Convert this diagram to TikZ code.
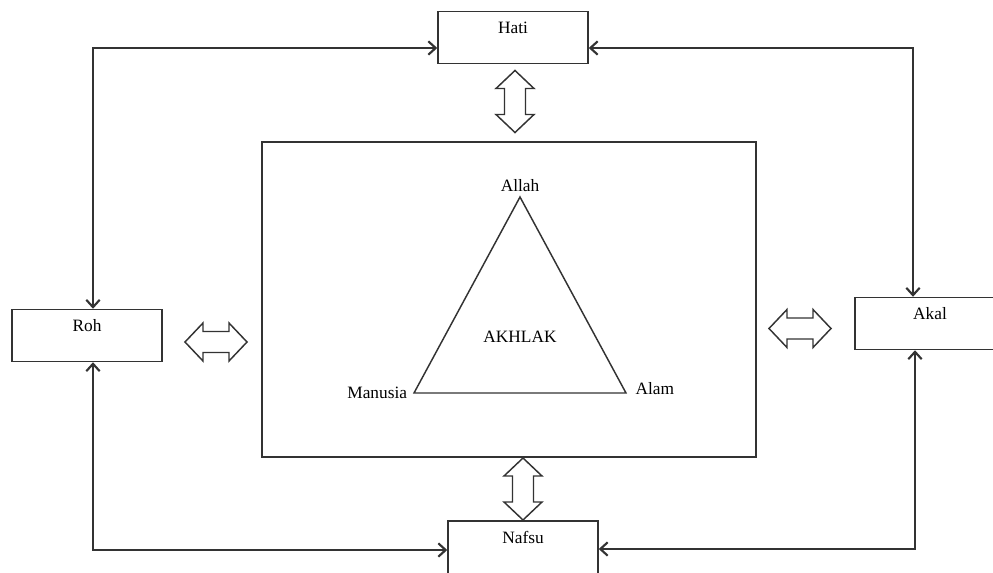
\documentclass[tikz,border=0pt]{standalone}
\usepackage{fontspec}
\setmainfont{Liberation Serif}
\usetikzlibrary{arrows.meta}

\tikzset{
  box/.style={draw=black!80, line width=1.1pt, minimum width=112.5pt, minimum height=39pt, inner sep=0pt},
  lbl/.style={font=\fontsize{13}{15}\selectfont, inner sep=1pt},
  link/.style={draw=black!80, line width=1.1pt, {Straight Barb[length=5.5pt,width=10pt,line width=1.6pt]}-{Straight Barb[length=5.5pt,width=10pt,line width=1.6pt]}},
  hollow/.style={draw=black!80, line width=1.1pt, fill=white, line join=miter},
  dblarrow/.pic={\draw[hollow] (-31,0) -- (-13,-19) -- (-13,-10.5) -- (13,-10.5) -- (13,-19) -- (31,0)
      -- (13,19) -- (13,10.5) -- (-13,10.5) -- (-13,19) -- cycle;}
}

\begin{document}
\begin{tikzpicture}[x=0.75pt, y=-0.75pt]
      \useasboundingbox (0,0) rectangle (993,572);
      % Boxes:
      \node[box] (hati) at (513,37.5) {};
      \node[box] (roh) at (87,335.5) {};
      \node[box] (akal) at (930,323.5) {};
      \node[box, minimum height=42pt] (nafsu) at (523,549) {};
      \node[box, minimum width=370.5pt, minimum height=236.25pt] (core) at (509,299.5) {};
      \node[lbl] at ([yshift=-12.75pt]hati.north) {Hati};
      \node[lbl] at ([yshift=-12.75pt]roh.north) {Roh};
      \node[lbl] at ([yshift=-12.75pt]akal.north) {Akal};
      \node[lbl] at ([yshift=-12.75pt]nafsu.north) {Nafsu};
      % Triangle:
      \coordinate (top) at (520,197);
      \coordinate (left) at (414,393);
      \coordinate (right) at (626,393);
      \draw[draw=black!80, line width=1.1pt, line join=miter] (top) -- (left) -- (right) -- cycle;
      \node[lbl, above=3pt] at (top) {Allah};
      \node[lbl] at (520,337) {AKHLAK};
      \node[lbl, left=4pt] at (left) {Manusia};
      \node[lbl, right=6pt] at ([yshift=3pt]right) {Alam};
      % Hollow arrows:
      \pic[rotate=90] at (515,101.5) {dblarrow};
      \pic[rotate=90] at (523,489) {dblarrow};
      \pic at (216,342) {dblarrow};
      \pic at (800,328.5) {dblarrow};
      % Links:
      \coordinate (nw) at (93,48);
      \coordinate (ne) at (913,48);
      \coordinate (sw) at (93,550);
      \coordinate (se) at (915,549);
      \draw[link] (nw |- roh.north) -- (nw) -- (hati.west |- nw);
      \draw[link] (ne |- akal.north) -- (ne) -- (hati.east |- ne);
      \draw[link] (sw |- roh.south) -- (sw) -- (nafsu.west |- sw);
      \draw[link] (se |- akal.south) -- (se) -- (nafsu.east |- se);
    \end{tikzpicture}
\end{document}
